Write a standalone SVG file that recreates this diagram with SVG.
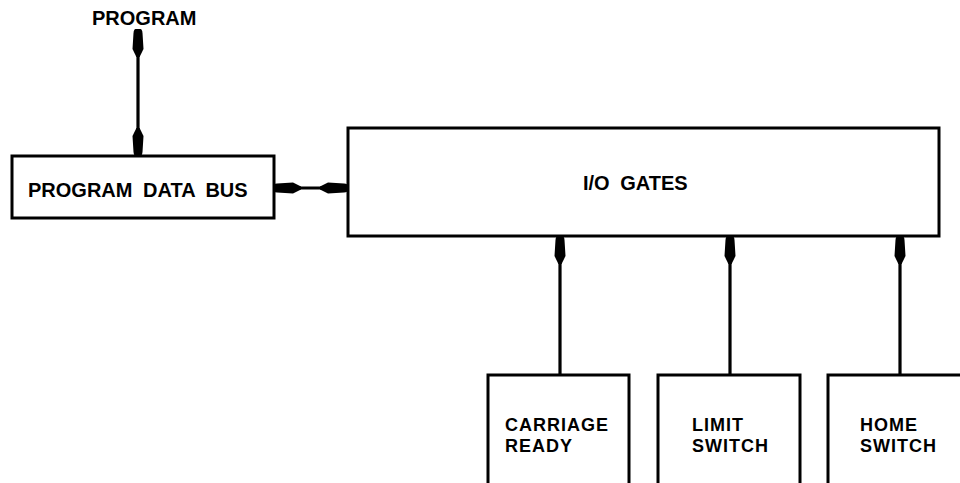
<svg xmlns="http://www.w3.org/2000/svg" width="960" height="483" viewBox="0 0 960 483">
<style>
.box{fill:#fff;stroke:#000;stroke-width:3}
.t{font-family:"Liberation Sans",Arial,Helvetica,sans-serif;font-weight:bold;font-size:20px;fill:#000;word-spacing:5px}
.s{font-family:"Liberation Sans",Arial,Helvetica,sans-serif;font-weight:bold;font-size:18px;letter-spacing:1px;fill:#000}
.c{fill:none;stroke:#000;stroke-width:3.2}
</style>
<defs>
<marker id="ah" viewBox="-30 -7 32 14" refX="0" refY="0" markerWidth="32" markerHeight="14" markerUnits="userSpaceOnUse" orient="auto-start-reverse">
<path d="M1,-2.5 Q1,-4 -3,-4.5 L-19,-5.5 L-27,-1.6 L-27,1.6 L-19,5.5 L-3,4.5 Q1,4 1,2.5 Z" fill="#000"/>
</marker>
</defs>
<rect width="960" height="483" fill="#fff"/>
<g id="connectors">
<line class="c" x1="138" y1="30" x2="138" y2="155" marker-start="url(#ah)" marker-end="url(#ah)"/>
<line class="c" x1="274" y1="188" x2="347" y2="188" marker-start="url(#ah)" marker-end="url(#ah)"/>
<line class="c" x1="560" y1="375" x2="560" y2="237" marker-end="url(#ah)"/>
<line class="c" x1="730" y1="375" x2="730" y2="237" marker-end="url(#ah)"/>
<line class="c" x1="900" y1="375" x2="900" y2="237" marker-end="url(#ah)"/>
</g>
<g id="program-label">
<text class="t" x="92" y="25">PROGRAM</text>
</g>
<g id="program-data-bus">
<rect class="box" x="12" y="156" width="262" height="62"/>
<text class="t" x="28" y="197">PROGRAM DATA BUS</text>
</g>
<g id="io-gates">
<rect class="box" x="348" y="128" width="591" height="108"/>
<text class="t" x="583" y="190">I/O GATES</text>
</g>
<g id="carriage-ready">
<rect class="box" x="488" y="375" width="141" height="140"/>
<text class="s" x="505" y="431">CARRIAGE</text>
<text class="s" x="505" y="452">READY</text>
</g>
<g id="limit-switch">
<rect class="box" x="658" y="375" width="142" height="140"/>
<text class="s" x="692" y="431">LIMIT</text>
<text class="s" x="692" y="452">SWITCH</text>
</g>
<g id="home-switch">
<rect class="box" x="828" y="375" width="160" height="140"/>
<text class="s" x="860" y="431">HOME</text>
<text class="s" x="860" y="452">SWITCH</text>
</g>
</svg>
